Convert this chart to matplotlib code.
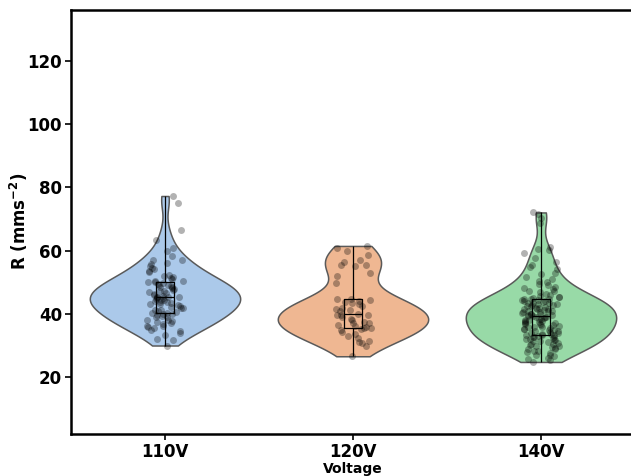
import numpy as np
import pandas as pd
import seaborn as sns
from matplotlib import pyplot as plt

# R values (mms^-2)
r_110 = [30.0, 31.6, 32.1, 33.4, 33.9, 34.6, 34.8, 35.5, 35.9, 36.1, 36.3, 36.9,
         37.0, 37.4, 37.8, 38.0, 38.2, 38.9, 39.1, 39.2, 39.7, 39.9, 40.0, 40.3,
         40.4, 40.6, 41.0, 41.1, 41.3, 41.9, 42.0, 42.1, 42.6, 42.9, 43.0, 43.1,
         43.5, 43.7, 43.9, 44.2, 44.3, 44.5, 44.8, 45.0, 45.0, 45.2, 45.3, 45.4,
         45.5, 45.8, 46.0, 46.2, 46.6, 46.9, 47.1, 47.2, 47.6, 47.9, 48.1, 48.4,
         48.5, 48.7, 49.1, 49.3, 49.4, 49.8, 50.0, 50.2, 50.3, 50.5, 50.9, 51.3,
         51.8, 52.1, 52.4, 53.2, 53.6, 54.1, 54.4, 55.0, 55.8, 56.2, 56.9, 57.1,
         58.4, 59.8, 60.9, 63.5, 66.5, 75.1, 77.3]
r_120 = [26.6, 29.8, 30.8, 31.2, 31.5, 32.3, 33.0, 33.6, 34.2, 34.8, 35.2, 35.4,
         35.5, 35.7, 36.2, 36.5, 37.0, 37.2, 37.5, 38.1, 38.5, 39.0, 39.5, 39.7,
         39.8, 39.9, 41.0, 41.2, 41.6, 42.0, 42.5, 43.0, 43.5, 43.8, 44.2, 44.4,
         44.6, 44.7, 49.8, 52.0, 52.9, 55.0, 55.4, 55.6, 56.5, 57.0, 58.6, 60.0,
         61.0, 61.5]
r_140 = [24.8, 25.3, 25.7, 26.2, 26.6, 27.0, 27.1, 27.6, 28.0, 28.3, 28.4, 28.9,
         29.0, 29.3, 29.5, 29.8, 30.0, 30.1, 30.5, 30.6, 30.9, 31.0, 31.3, 31.4,
         31.7, 31.9, 32.0, 32.2, 32.3, 32.6, 32.7, 32.8, 33.0, 33.2, 33.3, 33.4,
         33.5, 33.8, 33.9, 34.1, 34.2, 34.5, 34.6, 34.9, 35.0, 35.1, 35.3, 35.4,
         35.7, 35.8, 36.0, 36.1, 36.4, 36.5, 36.7, 36.9, 37.0, 37.2, 37.4, 37.5,
         37.8, 37.9, 38.0, 38.2, 38.4, 38.5, 38.7, 38.9, 39.0, 39.1, 39.3, 39.4,
         39.6, 39.7, 39.9, 40.0, 40.1, 40.3, 40.5, 40.6, 40.8, 40.9, 41.0, 41.2,
         41.4, 41.6, 41.7, 41.9, 42.0, 42.2, 42.4, 42.5, 42.7, 42.9, 43.0, 43.1,
         43.4, 43.5, 43.6, 43.8, 44.0, 44.1, 44.3, 44.4, 44.6, 44.7, 44.8, 44.9,
         45.2, 45.4, 45.7, 46.1, 46.3, 46.8, 47.1, 47.3, 47.9, 48.2, 48.5, 49.1,
         49.6, 50.0, 50.4, 51.1, 51.7, 52.6, 53.0, 54.1, 54.9, 55.6, 56.5, 57.6,
         59.2, 60.1, 60.5, 61.2, 68.7, 70.3, 71.6, 72.1]
groups = ['110V', '120V', '140V']

df = pd.DataFrame({
    'Voltage': [groups[0]] * len(r_110) + [groups[1]] * len(r_120) + [groups[2]] * len(r_140),
    'R': r_110 + r_120 + r_140,
})

np.random.seed(3)  # jitter only
plt.rcParams['mathtext.default'] = 'regular'

fig = plt.figure(figsize=(6.31, 4.76), dpi=100)
ax = fig.add_axes([0.1125, 0.0882, 0.8938, 0.8918])

sns.violinplot(data=df, x='Voltage', y='R', hue='Voltage', palette='pastel',
               cut=0, inner=None, width=0.8, linewidth=1.1, linecolor='#5a5a5a',
               legend=False, ax=ax)
sns.boxplot(data=df, x='Voltage', y='R', width=0.1, whis=(0, 100), showfliers=False,
            showcaps=False, fill=False, color='black', linewidth=0.9, ax=ax)
sns.stripplot(data=df, x='Voltage', y='R', color='black', alpha=0.3, size=5,
              jitter=0.1, ax=ax)

ax.set_xlim(-0.5, 2.5)
ax.set_ylim(2, 136.3)
ax.set_yticks([20, 40, 60, 80, 100, 120])
ax.set_xlabel('Voltage', fontsize=10, fontweight='bold', labelpad=1)
ax.set_ylabel(r'R (mms$^{-2}$)', fontsize=12, fontweight='bold', labelpad=-2)
for lab in ax.get_xticklabels() + ax.get_yticklabels():
    lab.set_fontsize(12)
    lab.set_fontweight('bold')
for s in ax.spines.values():
    s.set_linewidth(1.8)
ax.tick_params(width=1.2, length=4, pad=2.5)

plt.savefig('out.png', dpi=100)
